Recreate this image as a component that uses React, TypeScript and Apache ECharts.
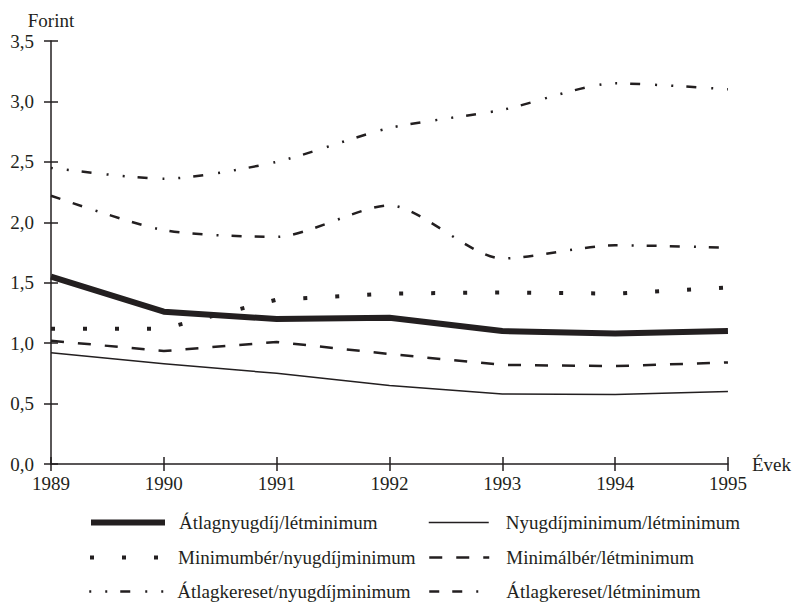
import React, { useEffect, useRef } from 'react';
import * as echarts from 'echarts';

const years = ['1989', '1990', '1991', '1992', '1993', '1994', '1995'];
const yTickLabels = ['0,0', '0,5', '1,0', '1,5', '2,0', '2,5', '3,0', '3,5'];

const seriesNames = [
  'Átlagnyugdíj/létminimum',
  'Nyugdíjminimum/létminimum',
  'Minimumbér/nyugdíjminimum',
  'Minimálbér/létminimum',
  'Átlagkereset/nyugdíjminimum',
  'Átlagkereset/létminimum',
];

const atlagnyugdijLet = [1.55, 1.26, 1.2, 1.21, 1.1, 1.08, 1.1];
const nyugdijminLet = [0.92, 0.83, 0.75, 0.65, 0.58, 0.575, 0.6];
const minimumberNyugdijmin = [1.12, 1.12, 1.36, 1.41, 1.42, 1.41, 1.46];
const minimalberLet = [1.02, 0.935, 1.01, 0.91, 0.82, 0.81, 0.84];
const atlagkeresetNyugdijmin = [2.45, 2.36, 2.5, 2.78, 2.93, 3.15, 3.1];
const atlagkeresetLet = [2.22, 1.935, 1.88, 2.14, 1.7, 1.81, 1.79];

const FONT = '"Liberation Serif", "Times New Roman", serif';
const INK = '#231f20';

export default function App() {
  const ref = useRef<HTMLDivElement>(null);

  useEffect(() => {
    const chart = echarts.init(ref.current as HTMLDivElement, null, { renderer: 'svg' });

    const styles: any[] = [
      { width: 6, type: 'solid' },
      { width: 1.5, type: 'solid' },
      { width: 4, type: [4, 28] },
      { width: 2.5, type: [13, 14] },
      { width: 2.5, type: [2, 14, 2, 13, 10, 15] },
      { width: 2.5, type: [10, 13, 10, 14, 2, 13] },
    ];
    const smooths: any[] = [false, false, false, false, 0.25, 0.25];
    const datas = [
      atlagnyugdijLet,
      nyugdijminLet,
      minimumberNyugdijmin,
      minimalberLet,
      atlagkeresetNyugdijmin,
      atlagkeresetLet,
    ];

    const textStyle = { fontFamily: FONT, fontSize: 19, color: INK };

    const yLabel = (v: number) => {
      const idx = Math.round(v / 0.5);
      return yTickLabels[idx] ?? '';
    };

    const rowTops = [513, 548, 582];
    const legends = seriesNames.map((name, i) => {
      const col = i % 2;
      const row = Math.floor(i / 2);
      return {
        left: col === 0 ? 88 : 428,
        top: rowTops[row],
        padding: 0,
        orient: 'horizontal',
        itemWidth: col === 0 ? 74 : 60,
        itemHeight: 14,
        selectedMode: false,
        data: [name],
        itemStyle: { opacity: 0, color: 'transparent', borderWidth: 0 },
        lineStyle: { color: INK, cap: 'butt', ...styles[i] },
        textStyle: { ...textStyle, lineHeight: 19, padding: [0, 0, 0, col === 0 ? 9 : 12] },
      };
    });

    chart.setOption({
      animation: false,
      backgroundColor: '#fff',
      textStyle: { fontFamily: FONT },
      grid: { left: 51, right: 64, top: 41, bottom: 139, containLabel: false },
      xAxis: [
        {
          type: 'category',
          data: years,
          boundaryGap: false,
          name: 'Évek',
          nameLocation: 'end',
          nameGap: 24,
          nameTextStyle: { ...textStyle, verticalAlign: 'middle' },
          axisLine: { show: true, lineStyle: { color: INK, width: 1.5 } },
          axisTick: { show: true, length: 7, inside: false, lineStyle: { color: INK, width: 1.5 } },
          axisLabel: { ...textStyle, margin: 10 },
          splitLine: { show: false },
        },
        {
          type: 'category',
          data: years,
          boundaryGap: false,
          position: 'bottom',
          axisLine: { show: false },
          axisTick: { show: true, length: 7, inside: true, lineStyle: { color: INK, width: 1.5 } },
          axisLabel: { show: false },
          splitLine: { show: false },
        },
      ],
      yAxis: [
        {
          type: 'value',
          min: 0,
          max: 3.5,
          interval: 0.5,
          name: 'Forint',
          nameLocation: 'end',
          nameGap: 11,
          nameTextStyle: { ...textStyle, align: 'center' },
          axisLine: { show: true, lineStyle: { color: INK, width: 1.5 } },
          axisTick: { show: true, length: 7, inside: false, lineStyle: { color: INK, width: 1.5 } },
          axisLabel: { ...textStyle, margin: 17, formatter: yLabel },
          splitLine: { show: false },
        },
        {
          type: 'value',
          min: 0,
          max: 3.5,
          interval: 0.5,
          position: 'left',
          axisLine: { show: false },
          axisTick: { show: true, length: 7, inside: true, lineStyle: { color: INK, width: 1.5 } },
          axisLabel: { show: false },
          splitLine: { show: false },
        },
      ],
      legend: legends,
      series: seriesNames.map((name, i) => ({
        name,
        type: 'line',
        data: datas[i],
        symbol: 'none',
        smooth: smooths[i],
        xAxisIndex: 0,
        yAxisIndex: 0,
        itemStyle: { color: INK },
        lineStyle: { color: INK, cap: 'butt', join: 'round', ...styles[i] },
      })),
    });

    return () => chart.dispose();
  }, []);

  return (
    <div
      ref={ref}
      style={{ position: 'fixed', left: 0, top: 0, width: 794, height: 603, background: '#fff' }}
    />
  );
}
